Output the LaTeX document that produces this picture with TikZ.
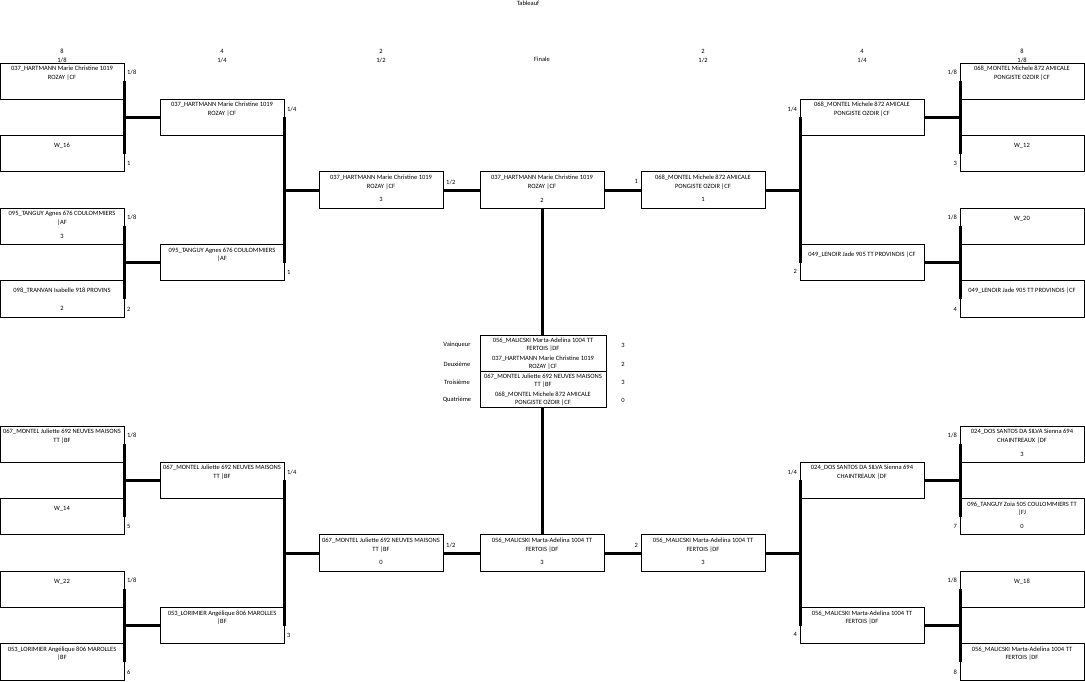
\documentclass[tikz,border=0pt]{standalone}
\usepackage{fontspec}
\setmainfont{Carlito}
\tikzset{
  boxs/.style={draw, line width=0.9pt, minimum width=124pt, minimum height=36.3pt, inner sep=0pt, outer sep=0pt},
  pod/.style={draw, line width=0.9pt, minimum width=126pt, minimum height=72.6pt, inner sep=0pt, outer sep=0pt},
  txt/.style={inner sep=0pt, align=center, font=\fontsize{6.5}{8.5}\selectfont},
  ptxt/.style={inner sep=0pt, align=center, font=\fontsize{6.5}{8}\selectfont},
  lbl/.style={inner sep=0pt, font=\fontsize{6.5}{7.5}\selectfont},
  conn/.style={line width=3pt},
  thinl/.style={line width=0.9pt}
}
\newcommand\mybox[5]{%
  \pgfmathsetmacro\ty{63+36.3*#3}%
  \node[boxs] (#1) at (#2,\ty+18.15) {};%
  \node[txt] (#1t) at (#2,\ty+10.2) {#4};%
  \if\relax\detokenize{#5}\relax\else\node[txt] (#1s) at (#2,\ty+28) {#5};\fi
}
\newcommand\rlab[3]{\node[lbl,anchor=west] (#1) at (#2) {#3};}
\newcommand\llab[3]{\node[lbl,anchor=east] (#1) at (#2) {#3};}
\begin{document}
\begin{tikzpicture}[x=1pt,y=-1pt]
\useasboundingbox (0,0) rectangle (1085,682);
% title and headers
\node[lbl] (title) at (528,3.5) {Tableauf};
\node[lbl] (h1a) at (62,51) {8};   \node[lbl] (h1b) at (62,60) {1/8};
\node[lbl] (h2a) at (222,51) {4};  \node[lbl] (h2b) at (222,60) {1/4};
\node[lbl] (h3a) at (381,51) {2};  \node[lbl] (h3b) at (381,60) {1/2};
\node[lbl] (hf) at (542,59) {Finale};
\node[lbl] (h4a) at (703,51) {2};  \node[lbl] (h4b) at (703,60) {1/2};
\node[lbl] (h5a) at (862,51) {4};  \node[lbl] (h5b) at (862,60) {1/4};
\node[lbl] (h6a) at (1022,51) {8}; \node[lbl] (h6b) at (1022,60) {1/8};

% ---------- top half ----------
\mybox{La}{62}{0}{037\_HARTMANN Marie Christine 1019\\ROZAY |CF}{}
\mybox{Lb}{62}{2}{W\_16}{}
\mybox{Lc}{62}{4}{095\_TANGUY Agnes 676 COULOMMIERS\\|AF}{3}
\mybox{Ld}{62}{6}{098\_TRANVAN Isabelle 918 PROVINS}{2}
\mybox{Ma}{222}{1}{037\_HARTMANN Marie Christine 1019\\ROZAY |CF}{}
\mybox{Mb}{222}{5}{095\_TANGUY Agnes 676 COULOMMIERS\\|AF}{}
\mybox{S}{381}{3}{037\_HARTMANN Marie Christine 1019\\ROZAY |CF}{3}
\mybox{F}{542}{3}{037\_HARTMANN Marie Christine 1019\\ROZAY |CF}{2}
\mybox{RS}{703}{3}{068\_MONTEL Michele 872 AMICALE\\PONGISTE OZOIR |CF}{1}
\mybox{RMa}{862}{1}{068\_MONTEL Michele 872 AMICALE\\PONGISTE OZOIR |CF}{}
\mybox{RMb}{862}{5}{049\_LENOIR Jade 905 TT PROVINOIS |CF}{}
\mybox{Ra}{1022}{0}{068\_MONTEL Michele 872 AMICALE\\PONGISTE OZOIR |CF}{}
\mybox{Rb}{1022}{2}{W\_12}{}
\mybox{Rc}{1022}{4}{W\_20}{}
\mybox{Rd}{1022}{6}{049\_LENOIR Jade 905 TT PROVINOIS |CF}{}

% ---------- bottom half ----------
\mybox{BLa}{62}{10}{067\_MONTEL Juliette 692 NEUVES MAISONS\\TT |BF}{}
\mybox{BLb}{62}{12}{W\_14}{}
\mybox{BLc}{62}{14}{W\_22}{}
\mybox{BLd}{62}{16}{053\_LORIMIER Angélique 806 MAROLLES\\|BF}{}
\mybox{BMa}{222}{11}{067\_MONTEL Juliette 692 NEUVES MAISONS\\TT |BF}{}
\mybox{BMb}{222}{15}{053\_LORIMIER Angélique 806 MAROLLES\\|BF}{}
\mybox{BS}{381}{13}{067\_MONTEL Juliette 692 NEUVES MAISONS\\TT |BF}{0}
\mybox{BF}{542}{13}{056\_MALICSKI Marta-Adelina 1004 TT\\FERTOIS |DF}{3}
\mybox{BRS}{703}{13}{056\_MALICSKI Marta-Adelina 1004 TT\\FERTOIS |DF}{3}
\mybox{BRMa}{862}{11}{024\_DOS SANTOS DA SILVA Sienna 694\\CHAINTREAUX |DF}{}
\mybox{BRMb}{862}{15}{056\_MALICSKI Marta-Adelina 1004 TT\\FERTOIS |DF}{}
\mybox{BRa}{1022}{10}{024\_DOS SANTOS DA SILVA Sienna 694\\CHAINTREAUX |DF}{3}
\mybox{BRb}{1022}{12}{096\_TANGUY Zoia 505 COULOMMIERS TT\\|FJ}{0}
\mybox{BRc}{1022}{14}{W\_18}{}
\mybox{BRd}{1022}{16}{056\_MALICSKI Marta-Adelina 1004 TT\\FERTOIS |DF}{}

% ---------- podium ----------
\node[pod] (P) at (543,371.6) {};
\draw[thinl] (P.west) -- (P.east);
\node[ptxt] (p1) at (543,344.6) {056\_MALICSKI Marta-Adelina 1004 TT\\FERTOIS |DF};
\node[ptxt] (p2) at (543,362.6) {037\_HARTMANN Marie Christine 1019\\ROZAY |CF};
\node[ptxt] (p3) at (543,380.6) {067\_MONTEL Juliette 692 NEUVES MAISONS\\TT |BF};
\node[ptxt] (p4) at (543,399) {068\_MONTEL Michele 872 AMICALE\\PONGISTE OZOIR |CF};
\node[lbl] (v1) at (457,345) {Vainqueur};
\node[lbl] (v2) at (457,364) {Deuxième};
\node[lbl] (v3) at (457,382) {Troisième};
\node[lbl] (v4) at (457,400) {Quatrième};
\node[lbl] (n1) at (623,345) {3};
\node[lbl] (n2) at (623,364) {2};
\node[lbl] (n3) at (623,382) {3};
\node[lbl] (n4) at (623,400) {0};

% ---------- connectors ----------
\foreach \a/\b/\c in {La/Lb/Ma, Lc/Ld/Mb, Ma/Mb/S, BLa/BLb/BMa, BLc/BLd/BMb, BMa/BMb/BS}{
  \draw[conn] (\a.east) -- (\b.east);
  \draw[conn] (\c.west) -- (\c.west -| \a.east);
}
\foreach \a/\b/\c in {Ra/Rb/RMa, Rc/Rd/RMb, RMa/RMb/RS, BRa/BRb/BRMa, BRc/BRd/BRMb, BRMa/BRMb/BRS}{
  \draw[conn] (\a.west) -- (\b.west);
  \draw[conn] (\c.east) -- (\c.east -| \a.west);
}
\draw[conn] (S.east) -- (F.west);
\draw[conn] (F.east) -- (RS.west);
\draw[conn] (BS.east) -- (BF.west);
\draw[conn] (BF.east) -- (BRS.west);
\draw[conn] (F.south) -- (F.south |- P.north);
\draw[conn] (BF.north) -- (BF.north |- P.south);

% ---------- round labels ----------
\rlab{la1}{[xshift=3pt,yshift=-9pt]La.north east}{1/8}
\rlab{la2}{[xshift=3pt,yshift=8pt]Lb.south east}{1}
\rlab{la3}{[xshift=3pt,yshift=-9pt]Lc.north east}{1/8}
\rlab{la4}{[xshift=3pt,yshift=8pt]Ld.south east}{2}
\rlab{lm1}{[xshift=3pt,yshift=-10pt]Ma.north east}{1/4}
\rlab{lm2}{[xshift=3pt,yshift=8pt]Mb.south east}{1}
\rlab{ls1}{[xshift=3pt,yshift=-10pt]S.north east}{1/2}
\llab{lf1}{[xshift=-3pt,yshift=-10pt]RS.north west}{1}
\llab{lr1}{[xshift=-3pt,yshift=-10pt]RMa.north west}{1/4}
\llab{lr2}{[xshift=-3pt,yshift=9pt]RMb.south west}{2}
\llab{lr3}{[xshift=-3pt,yshift=-9pt]Ra.north west}{1/8}
\llab{lr4}{[xshift=-3pt,yshift=8pt]Rb.south west}{3}
\llab{lr5}{[xshift=-3pt,yshift=-9pt]Rc.north west}{1/8}
\llab{lr6}{[xshift=-3pt,yshift=8pt]Rd.south west}{4}

\rlab{bla1}{[xshift=3pt,yshift=-9pt]BLa.north east}{1/8}
\rlab{bla2}{[xshift=3pt,yshift=8pt]BLb.south east}{5}
\rlab{bla3}{[xshift=3pt,yshift=-9pt]BLc.north east}{1/8}
\rlab{bla4}{[xshift=3pt,yshift=8pt]BLd.south east}{6}
\rlab{blm1}{[xshift=3pt,yshift=-10pt]BMa.north east}{1/4}
\rlab{blm2}{[xshift=3pt,yshift=8pt]BMb.south east}{3}
\rlab{bls1}{[xshift=3pt,yshift=-10pt]BS.north east}{1/2}
\llab{blf1}{[xshift=-3pt,yshift=-10pt]BRS.north west}{2}
\llab{blr1}{[xshift=-3pt,yshift=-10pt]BRMa.north west}{1/4}
\llab{blr2}{[xshift=-3pt,yshift=9pt]BRMb.south west}{4}
\llab{blr3}{[xshift=-3pt,yshift=-9pt]BRa.north west}{1/8}
\llab{blr4}{[xshift=-3pt,yshift=8pt]BRb.south west}{7}
\llab{blr5}{[xshift=-3pt,yshift=-9pt]BRc.north west}{1/8}
\llab{blr6}{[xshift=-3pt,yshift=8pt]BRd.south west}{8}
\end{tikzpicture}
\end{document}
